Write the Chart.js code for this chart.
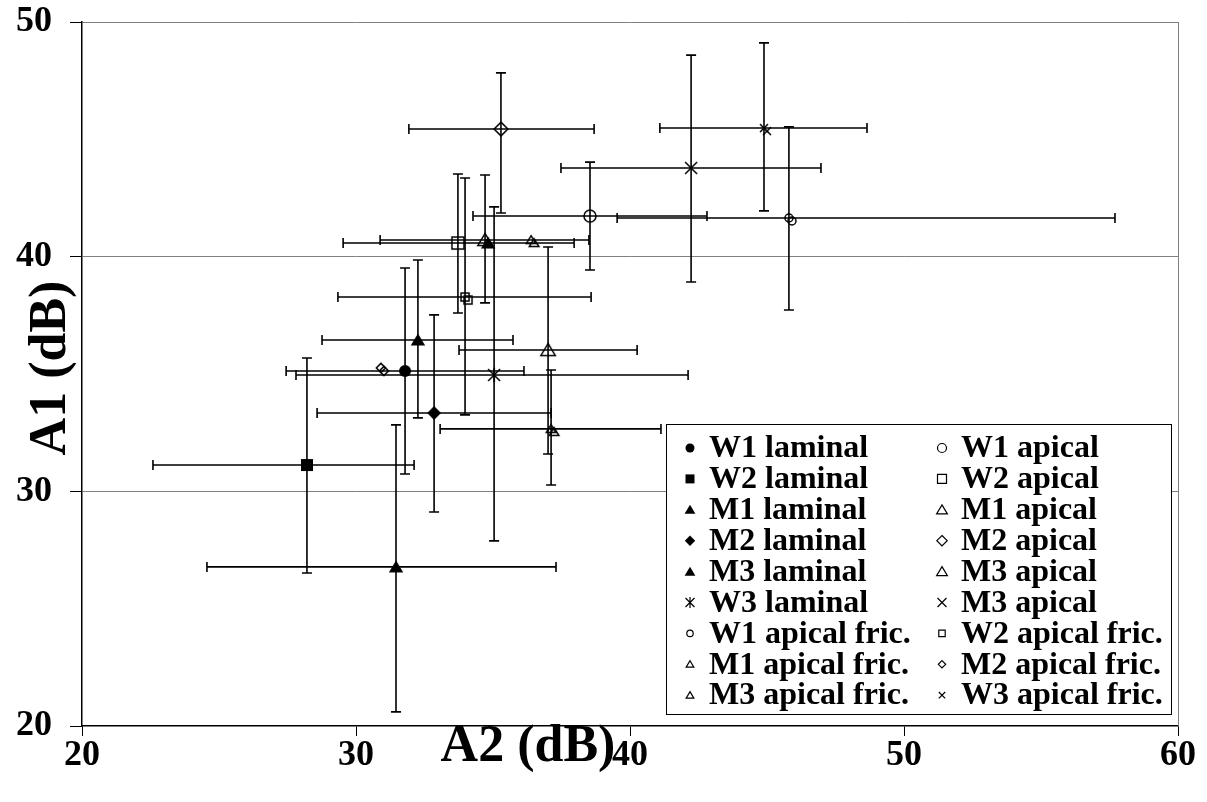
<!DOCTYPE html>
<html lang="en">
<head>
<meta charset="UTF-8">
<title>A1 / A2</title>
<style>
  html, body { margin: 0; padding: 0; background: #fff; }
  #wrap { width: 1207px; height: 802px; }
</style>
</head>
<body>
<div id="wrap"><canvas id="myChart"></canvas></div>
<script src="https://cdn.jsdelivr.net/npm/chart.js"></script>
<script>
// series, in legend order (two columns, filled row by row)
const seriesNames = [
  'W1 laminal', 'W1 apical',
  'W2 laminal', 'W2 apical',
  'M1 laminal', 'M1 apical',
  'M2 laminal', 'M2 apical',
  'M3 laminal', 'M3 apical',
  'W3 laminal', 'M3 apical',
  'W1 apical fric.', 'W2 apical fric.',
  'M1 apical fric.', 'M2 apical fric.',
  'M3 apical fric.', 'W3 apical fric.'
];
const seriesShape = [
  'circle', 'circle', 'rect', 'rect', 'triangle', 'triangle',
  'rectRot', 'rectRot', 'triangle', 'triangle', 'asterisk', 'crossRot',
  'circle', 'rect', 'triangle', 'rectRot', 'triangle', 'crossRot'
];
const seriesFilled = [
  true, false, true, false, true, false, true, false, true, false, false, false,
  false, false, false, false, false, false
];
// the "fric." series use a small doubled marker
const seriesSmall = [
  false, false, false, false, false, false, false, false, false, false, false, false,
  true, true, true, true, true, true
];

// one entry per point: series, A2 (x), A1 (y) and the error bar ends
const pointSeries = [0, 1, 2, 3, 4, 4, 5, 6, 7, 8, 9, 10, 11, 12, 13, 14, 15, 16, 17];
const a2   = [31.79, 38.54, 28.21, 33.72, 32.26, 34.82, 34.71, 32.85, 35.29, 31.46, 37.01, 35.04, 42.23, 45.80, 33.98, 36.39, 30.91, 37.12, 44.89];
const a2Lo = [27.45, 34.27, 22.59, 29.53, 28.76, 34.82, 30.88, 28.58, 31.93, 24.56, 33.76, 27.81, 37.48, 39.53, 29.34, 36.39, 30.91, 33.07, 41.09];
const a2Hi = [36.13, 42.81, 32.12, 37.96, 35.73, 34.82, 38.50, 37.12, 38.69, 37.30, 40.26, 42.12, 46.97, 57.70, 38.58, 36.39, 30.91, 41.13, 48.65];
const a1   = [35.13, 41.73, 31.12, 40.58, 36.45, 40.58, 40.71, 33.34, 45.44, 26.78, 36.02, 34.96, 43.78, 41.65, 38.28, 40.71, 35.26, 32.66, 45.48];
const a1Lo = [30.74, 39.43, 26.52, 37.60, 33.13, 40.58, 38.03, 29.12, 41.86, 20.60, 31.59, 27.89, 38.92, 37.73, 33.26, 40.71, 35.26, 30.27, 41.95];
const a1Hi = [39.52, 44.03, 35.68, 43.52, 39.86, 40.58, 43.48, 37.52, 47.83, 32.83, 40.41, 42.12, 48.59, 45.53, 43.35, 40.71, 35.26, 35.17, 49.11];

const xTicks = [20, 30, 40, 50, 60];
const yTicks = [20, 30, 40, 50];
const xTitle = 'A2 (dB)';
const yTitle = 'A1 (dB)';

const SERIF = '"Liberation Serif", "Times New Roman", serif';

function drawMarker(g, shape, x, y, r, filled) {
  g.beginPath();
  if (shape === 'circle') {
    g.arc(x, y, r, 0, 2 * Math.PI);
  } else if (shape === 'rect') {
    g.rect(x - r, y - r, 2 * r, 2 * r);
  } else if (shape === 'rectRot') {
    const d = r * 1.15;
    g.moveTo(x, y - d); g.lineTo(x + d, y); g.lineTo(x, y + d); g.lineTo(x - d, y);
    g.closePath();
  } else if (shape === 'triangle') {
    const w = r * 1.2;
    g.moveTo(x, y - r * 1.1); g.lineTo(x + w, y + r * 0.9); g.lineTo(x - w, y + r * 0.9);
    g.closePath();
  } else {
    // crossRot / asterisk
    g.moveTo(x - r, y - r); g.lineTo(x + r, y + r);
    g.moveTo(x + r, y - r); g.lineTo(x - r, y + r);
    if (shape === 'asterisk') { g.moveTo(x, y - r * 1.2); g.lineTo(x, y + r * 1.2); }
    g.stroke();
    return;
  }
  if (filled) g.fill(); else g.stroke();
}

// point style as a small canvas, centred on the point
function markerCanvas(s) {
  const r = seriesSmall[s] ? 4 : 6;
  const off = seriesSmall[s] ? 3 : 0;
  const size = 2 * Math.ceil(r * 1.3 + off + 2);
  const c = document.createElement('canvas');
  c.width = size; c.height = size;
  const g = c.getContext('2d');
  g.lineWidth = 1.5;
  g.strokeStyle = '#000';
  g.fillStyle = '#000';
  drawMarker(g, seriesShape[s], size / 2, size / 2, r, seriesFilled[s]);
  if (off) drawMarker(g, seriesShape[s], size / 2 + off, size / 2 + off, r, seriesFilled[s]);
  return c;
}

const datasets = seriesNames.map(function (name, s) {
  const pts = [];
  pointSeries.forEach(function (ps, k) {
    if (ps === s) pts.push({ x: a2[k], y: a1[k], xMin: a2Lo[k], xMax: a2Hi[k], yMin: a1Lo[k], yMax: a1Hi[k] });
  });
  return { label: name, data: pts, pointStyle: markerCanvas(s), pointRadius: 6, showLine: false };
});

// x and y error bars with caps, under the markers
const errorBars = {
  id: 'errorBars',
  beforeDatasetsDraw(chart) {
    const ctx = chart.ctx, xs = chart.scales.x, ys = chart.scales.y;
    const cap = 5;
    ctx.save();
    ctx.strokeStyle = '#000';
    ctx.lineWidth = 1.6;
    chart.data.datasets.forEach(function (ds) {
      ds.data.forEach(function (p) {
        const px = xs.getPixelForValue(p.x), py = ys.getPixelForValue(p.y);
        ctx.beginPath();
        if (p.xMax > p.xMin) {
          const l = xs.getPixelForValue(p.xMin), h = xs.getPixelForValue(p.xMax);
          ctx.moveTo(l, py); ctx.lineTo(h, py);
          ctx.moveTo(l, py - cap); ctx.lineTo(l, py + cap);
          ctx.moveTo(h, py - cap); ctx.lineTo(h, py + cap);
        }
        if (p.yMax > p.yMin) {
          const t = ys.getPixelForValue(p.yMax), b = ys.getPixelForValue(p.yMin);
          ctx.moveTo(px, t); ctx.lineTo(px, b);
          ctx.moveTo(px - cap, t); ctx.lineTo(px + cap, t);
          ctx.moveTo(px - cap, b); ctx.lineTo(px + cap, b);
        }
        ctx.stroke();
      });
    });
    ctx.restore();
  }
};

// right frame line, axis titles and the boxed two-column legend
const decorations = {
  id: 'decorations',
  beforeDatasetsDraw(chart) {
    const ctx = chart.ctx, a = chart.chartArea;
    ctx.save();
    ctx.strokeStyle = '#808080';
    ctx.lineWidth = 1;
    ctx.beginPath();
    ctx.moveTo(a.right + 0.5, a.top); ctx.lineTo(a.right + 0.5, a.bottom);
    ctx.stroke();
    ctx.restore();
  },
  afterDraw(chart) {
    const ctx = chart.ctx, a = chart.chartArea;
    ctx.save();
    ctx.fillStyle = '#000';
    ctx.font = 'bold 52px ' + SERIF;
    ctx.textAlign = 'center';
    ctx.textBaseline = 'middle';
    ctx.fillText(xTitle, a.left + 446, a.bottom + 22);
    ctx.translate(a.left - 30, a.top + 346);
    ctx.rotate(-Math.PI / 2);
    ctx.fillText(yTitle, 0, 0);
    ctx.restore();

    // legend
    const bx = a.right - 512, by = a.bottom - 302, bw = 505, bh = 290;
    ctx.save();
    ctx.fillStyle = '#fff';
    ctx.fillRect(bx, by, bw, bh);
    ctx.strokeStyle = '#000';
    ctx.lineWidth = 1;
    ctx.strokeRect(bx + 0.5, by + 0.5, bw, bh);
    ctx.font = 'bold 32px ' + SERIF;
    ctx.textBaseline = 'middle';
    ctx.textAlign = 'left';
    chart.data.datasets.forEach(function (ds, s) {
      const row = Math.floor(s / 2), col = s % 2;
      const cy = by + 24 + row * 30.9;
      const mx = bx + (col ? 276 : 24);
      ctx.fillStyle = '#000';
      ctx.strokeStyle = '#000';
      ctx.lineWidth = 1.2;
      drawMarker(ctx, seriesShape[s], mx, cy, seriesSmall[s] ? 3.2 : 4.5, seriesFilled[s]);
      ctx.fillStyle = '#000';
      ctx.fillText(ds.label, mx + 19, cy + 1);
    });
    ctx.restore();
  }
};

const ctx = document.getElementById('myChart');
new Chart(ctx, {
  type: 'scatter',
  data: { datasets: datasets },
  options: {
    responsive: true,
    maintainAspectRatio: false,
    animation: false,
    layout: { padding: { top: 22, right: 29, left: 0, bottom: 0 } },
    plugins: { legend: { display: false }, tooltip: { enabled: false } },
    scales: {
      x: {
        type: 'linear', min: 20, max: 60,
        afterFit: function (scale) {
          scale.height = 76;
          scale.paddingLeft = 0; scale.paddingRight = 0;
        },
        afterBuildTicks: function (scale) { scale.ticks = xTicks.map(function (v) { return { value: v }; }); },
        grid: { drawOnChartArea: false, drawTicks: true, tickLength: 10, tickColor: '#000' },
        border: { display: true, color: '#000', width: 1.5 },
        ticks: { autoSkip: false, maxRotation: 0, padding: -2, color: '#000', font: { family: SERIF, size: 36, weight: 'bold' } }
      },
      y: {
        type: 'linear', min: 20, max: 50,
        afterFit: function (scale) {
          scale.width = 82;
          scale.paddingTop = 0; scale.paddingBottom = 0;
        },
        afterBuildTicks: function (scale) { scale.ticks = yTicks.map(function (v) { return { value: v }; }); },
        grid: {
          color: function (c) { return c.tick && c.tick.value === 20 ? 'rgba(0,0,0,0)' : '#808080'; },
          lineWidth: 1, drawTicks: true, tickLength: 12, tickColor: '#000'
        },
        border: { display: true, color: '#000', width: 1.5 },
        ticks: { autoSkip: false, padding: 18, color: '#000', font: { family: SERIF, size: 36, weight: 'bold' } }
      }
    }
  },
  plugins: [errorBars, decorations]
});
</script>
</body>
</html>
